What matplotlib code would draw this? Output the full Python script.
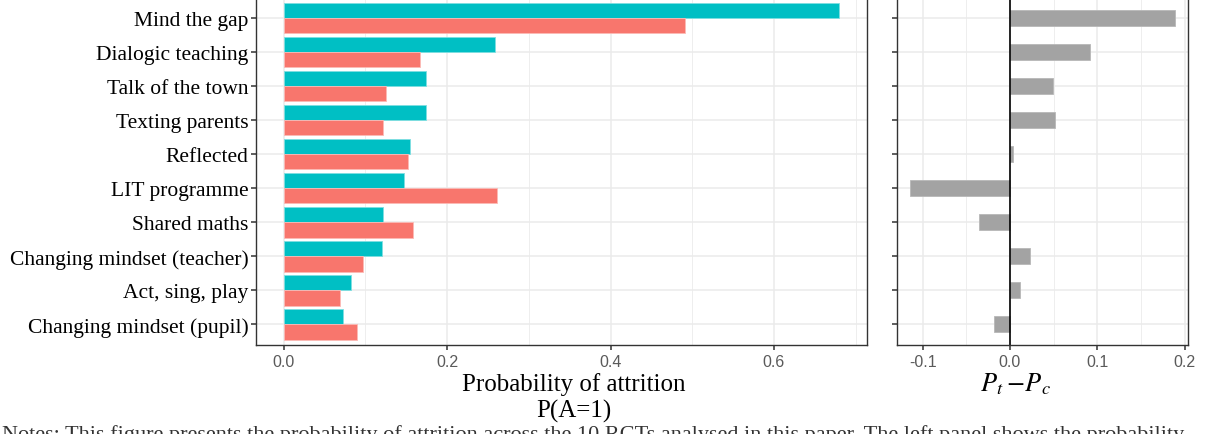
import matplotlib
matplotlib.use("Agg")
import matplotlib.pyplot as plt
import numpy as np

# attrition probabilities per trial (treatment / control) and their difference
trials = [
    "Mind the gap",
    "Dialogic teaching",
    "Talk of the town",
    "Texting parents",
    "Reflected",
    "LIT programme",
    "Shared maths",
    "Changing mindset (teacher)",
    "Act, sing, play",
    "Changing mindset (pupil)",
]
p_treat = [0.680, 0.259, 0.174, 0.174, 0.155, 0.147, 0.122, 0.120, 0.082, 0.072]
p_ctrl = [0.491, 0.167, 0.125, 0.122, 0.152, 0.261, 0.158, 0.097, 0.069, 0.090]
p_diff = [0.189, 0.092, 0.049, 0.052, 0.003, -0.115, -0.036, 0.023, 0.012, -0.018]

left_ticks = [0.0, 0.2, 0.4, 0.6]
left_minor = [0.1, 0.3, 0.5, 0.7]
right_ticks = [-0.1, 0.0, 0.1, 0.2]
right_minor = [-0.05, 0.05, 0.15]

TEAL = "#00BFC4"
RED = "#F8766D"
SERIF = ["Liberation Serif", "DejaVu Serif"]
SANS = ["Liberation Sans", "DejaVu Sans"]

W, H = 1212, 435
fig = plt.figure(figsize=(W / 100, H / 100), dpi=100)


def px_axes(x0, x1, y0, y1):
    # y measured from top of image
    return fig.add_axes([x0 / W, 1 - y1 / H, (x1 - x0) / W, (y1 - y0) / H])


def style_bw(ax, major, minor):
    for s in ax.spines.values():
        s.set_color("#333333")
        s.set_linewidth(1.0)
    ax.set_axisbelow(True)
    ax.set_xticks(major)
    ax.set_xticks(minor, minor=True)
    ax.grid(True, which="major", color="#EBEBEB", linewidth=1.1)
    ax.grid(True, which="minor", axis="x", color="#EBEBEB", linewidth=0.6)
    ax.tick_params(which="minor", length=0)
    ax.tick_params(which="major", length=3.5, width=1.1, color="#333333",
                   labelcolor="#5A5A5A", labelsize=11.5)


n = len(trials)
y = np.arange(n)
h = 0.45

# left panel: grouped bars
ax1 = px_axes(256, 867, -1.4, 345.7)
ax1.barh(y - h / 2, p_treat, height=h, color=TEAL, edgecolor="#7FDFE1", linewidth=0.6)
ax1.barh(y + h / 2, p_ctrl, height=h, color=RED, edgecolor="#FBBAB6", linewidth=0.6)
ax1.set_xlim(-0.034, 0.714)
ax1.set_ylim(n - 1 + 0.6, -0.6)
style_bw(ax1, left_ticks, left_minor)
ax1.set_xticklabels([f"{t:.1f}" for t in left_ticks], family=SANS)
ax1.set_yticks(y)
ax1.set_yticklabels(trials, family=SERIF, fontsize=15.5, color="black")
ax1.tick_params(axis="y", pad=2)

# right panel: differences
ax2 = px_axes(897, 1188, -1.4, 345.7)
ax2.barh(y, p_diff, height=0.47, color="#A3A3A3", edgecolor="#B8B8B8", linewidth=0.6)
ax2.axvline(0, color="black", linewidth=1.2)
ax2.set_xlim(-0.1294, 0.2039)
ax2.set_ylim(n - 1 + 0.6, -0.6)
style_bw(ax2, right_ticks, right_minor)
ax2.set_xticklabels([f"{t:.1f}" for t in right_ticks], family=SANS)
ax2.set_yticks(y)
ax2.set_yticklabels([])

# axis titles
fig.text(574 / W, 1 - 385 / H, "Probability of attrition", family=SERIF,
         fontsize=18, ha="center", va="center")
fig.text(574 / W, 1 - 411 / H, "P(A=1)", family=SERIF,
         fontsize=18, ha="center", va="center")
plt.rcParams["mathtext.fontset"] = "stix"
fig.text(1015 / W, 1 - 384 / H, r"$P_t\ \!\!-\!P_c$", fontsize=19,
         ha="center", va="center")

# caption, cut off by the bottom edge as in the source figure
fig.text(0.002, 1 - 425 / H,
         "Notes: This figure presents the probability of attrition across the 10 RCTs "
         "analysed in this paper. The left panel shows the probability",
         family=SERIF, fontsize=16, color="#333333", ha="left", va="top")

fig.savefig("out.png", dpi=100)
